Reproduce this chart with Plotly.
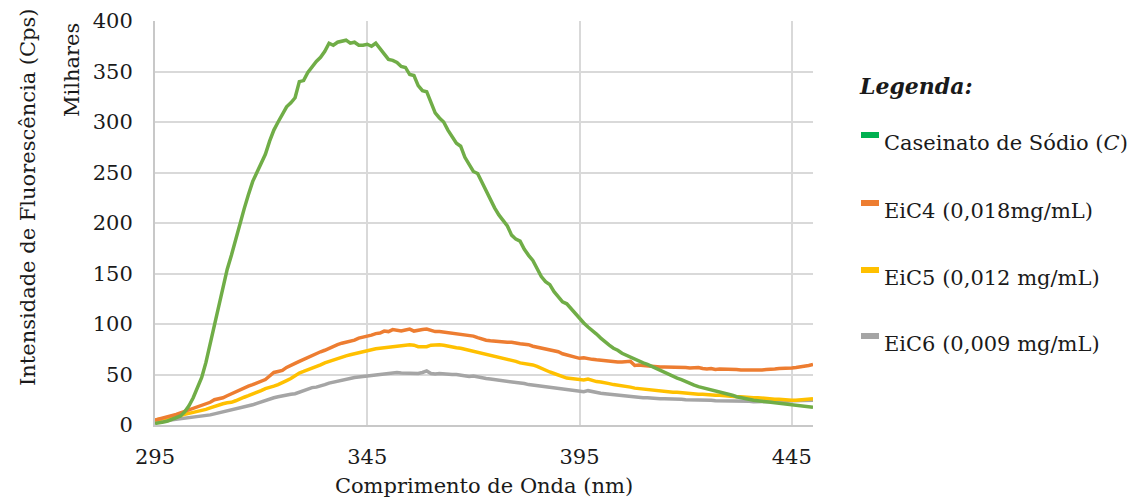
import plotly.graph_objects as go

# Emission wavelength (nm), one reading per nanometre
wavelength = list(range(295, 451))

# Fluorescence intensity, thousands of counts per second
caseinato = [
    1.5, 2, 3, 4, 5.5, 7, 9, 13, 19, 27,
    36, 47, 62, 80, 100, 118, 137, 154, 168, 184,
    200, 214, 228, 241, 250, 260, 268, 281, 292, 300,
    307, 315, 319, 324, 340, 341, 349, 355, 360, 364,
    370, 378, 376, 379, 380, 381, 378, 379, 376, 376,
    377, 375, 378, 373, 367, 362, 361, 359, 355, 354,
    347, 346, 336, 331, 330, 319, 309, 304, 300, 292,
    285, 279, 276, 265, 258, 251, 249, 240, 231, 223,
    215, 208, 202, 197, 188, 184, 182, 174, 168, 163,
    155, 147, 142, 139, 132, 127, 122, 120, 115, 110,
    105, 101, 97, 94, 90, 86, 82, 79, 76, 74,
    71, 69, 67, 65, 63, 61.5, 60, 58, 56, 54,
    52, 50, 48, 46.5, 45, 43, 41, 39.5, 38, 37,
    36, 35, 34, 32.5, 31.5, 30.5, 29.5, 28, 27, 26,
    25, 24.5, 24, 23.5, 23, 22.5, 22, 21.5, 21, 20.5,
    20, 19.5, 19, 18.5, 18, 17.5,
]
eic4 = [
    5, 6, 7, 8, 9, 10.5, 12, 13.5, 15, 16.5,
    17.5, 19, 20.5, 22.5, 25, 26, 27, 29, 31, 33,
    35, 37, 38.5, 40, 41.5, 43, 45, 48.5, 52, 53,
    54, 57, 59.5, 61, 63, 65, 67, 69, 71, 72.5,
    74, 76, 77.5, 79.5, 81, 82, 82.5, 84, 86, 87,
    87.5, 89, 90.5, 91, 93, 92.5, 94.5, 93.5, 93, 94,
    95, 93, 94, 94.5, 95, 93.5, 92.5, 92.5, 92, 91.5,
    91, 90, 89.5, 89, 88.5, 88, 86.5, 85, 84, 83.5,
    83, 82.5, 82.5, 82, 82, 81, 80.5, 80, 79.5, 78,
    77, 76, 75, 74.5, 73.5, 72.5, 70.5, 69.5, 68.5, 67,
    66, 66.5, 65.5, 65, 64.5, 64, 63.5, 63.5, 63, 62.5,
    62.5, 62.5, 63, 59, 59.5, 59, 58.5, 58, 58, 57.5,
    57.5, 57.5, 57, 57.5, 57, 57, 56.5, 56.5, 57, 56,
    55.5, 56, 55, 55.5, 55.5, 55, 55.5, 55, 54.5, 54.5,
    54.5, 54.5, 54, 54.5, 55, 55, 55.5, 56, 56, 56.5,
    56.5, 57, 57.5, 58, 59, 60,
]
eic5 = [
    5, 5.5, 6.5, 7.5, 8, 9, 9.5, 10.5, 11.5, 12.5,
    13, 14, 15.5, 17, 18.5, 20, 21, 22, 22.5, 24,
    26, 27.5, 29, 30.5, 32, 34, 36, 37, 38.5, 40,
    42.5, 44, 46, 49, 51.5, 53, 54.5, 56, 58, 59.5,
    61.5, 63, 64.5, 66, 67, 68.5, 69.5, 70.5, 72, 73,
    74, 74.5, 75.5, 76, 76.5, 77.5, 78, 78.5, 78.5, 79.5,
    79.5, 79, 77.5, 77.5, 77.5, 79, 79.5, 79.5, 79, 78,
    77, 76.5, 76, 75, 74, 73, 72, 71, 70, 69,
    68, 67.5, 66.5, 65.5, 64.5, 63, 61.5, 61, 60, 59.5,
    58, 56, 54, 52.5, 51, 49.5, 48, 46.5, 46, 45.5,
    45, 44.5, 45.5, 44, 43, 42.5, 42, 41, 40, 39.5,
    39, 38.5, 37.5, 36.5, 36, 35.5, 35, 34.5, 34, 33.5,
    33, 33, 32.5, 32.5, 32, 31.5, 31.5, 31, 30.5, 30.5,
    30, 30, 29.5, 29.5, 29, 28.5, 28.5, 28, 28, 27.5,
    27.5, 27, 27, 26.5, 26, 26, 25.5, 25.5, 25, 25,
    24.5, 24.5, 25, 25.5, 26, 26,
]
eic6 = [
    3, 3.5, 4, 4.5, 5, 5.5, 6, 6.5, 7, 7.5,
    8, 8.5, 9, 10, 11, 12, 13, 14, 14.5, 15.5,
    16.5, 18, 19, 20, 21.5, 23, 24.5, 25.5, 27, 28,
    29, 29.5, 30.5, 31, 32.5, 34.5, 36, 37, 37.5, 38.5,
    40, 41.5, 42.5, 43.5, 44.5, 45.5, 46, 47, 47.5, 48,
    48.5, 49, 49.5, 50.5, 51, 51.5, 51.5, 52, 51.5, 51.5,
    51, 51.5, 51, 52, 53.5, 51, 50.5, 51, 50.5, 50,
    50, 50, 49.5, 49, 48, 48.5, 47.5, 46.5, 46, 45.5,
    45, 44.5, 44, 43.5, 43, 42, 41.5, 41, 40, 39.5,
    39, 38.5, 38, 37.5, 37, 36, 35.5, 35, 34.5, 34,
    33.5, 33, 34, 33, 32, 31.5, 31, 30.5, 30, 29.5,
    29, 28.5, 28, 27.5, 27.5, 27, 27, 26.5, 26.5, 26,
    26, 26, 25.5, 25.5, 25.5, 25, 25, 25, 25, 24.5,
    24.5, 24.5, 24, 24, 24, 24, 24, 23.5, 23.5, 23.5,
    23.5, 23, 23, 23, 23, 23, 23, 23.5, 23.5, 23.5,
    24, 24, 24, 24, 24.5, 24.5,
]

series_names = [
    "Caseinato de Sódio (<i>C</i>)",
    "EiC4 (0,018mg/mL)",
    "EiC5 (0,012 mg/mL)",
    "EiC6 (0,009 mg/mL)",
]
line_colors = ["#70AD47", "#ED7D31", "#FFC000", "#A5A5A5"]
key_colors = ["#00B050", "#ED7D31", "#FFC000", "#A5A5A5"]

x_ticks = [295, 345, 395, 445]
y_ticks = [0, 50, 100, 150, 200, 250, 300, 350, 400]

FONT = "DejaVu Serif"
TXT = "#1a1a1a"
W, H = 1127, 501
L, R, T, B = 155, 314, 21, 76
PW, PH = W - L - R, H - T - B


def px(xp):
    return (xp - L) / PW


def py(yp):
    return (H - B - yp) / PH


fig = go.Figure()
# Draw gray first so the stronger curves sit on top
for vals, color in list(zip([caseinato, eic4, eic5, eic6], line_colors))[::-1]:
    fig.add_trace(go.Scatter(
        x=wavelength, y=vals, mode="lines",
        line=dict(color=color, width=3.5),
        showlegend=False, hoverinfo="skip",
    ))

fig.update_layout(
    width=W, height=H,
    margin=dict(l=L, r=R, t=T, b=B),
    paper_bgcolor="white", plot_bgcolor="white",
    font=dict(family=FONT, size=21, color=TXT),
    xaxis=dict(
        range=[295, 450], tickvals=x_ticks, ticktext=[str(v) for v in x_ticks],
        showgrid=True, gridcolor="#d9d9d9", gridwidth=2,
        showline=True, linecolor="#c8c8c8", linewidth=2,
        ticks="", zeroline=False, ticklabelstandoff=12, automargin=False,
        tickfont=dict(family=FONT, size=21, color=TXT),
        title=dict(text="Comprimento de Onda (nm)", standoff=10,
                   font=dict(family=FONT, size=21, color=TXT)),
    ),
    yaxis=dict(
        range=[0, 400], tickvals=y_ticks,
        showgrid=True, gridcolor="#d9d9d9", gridwidth=2,
        showline=True, linecolor="#c8c8c8", linewidth=2,
        ticks="", zeroline=False, ticklabelstandoff=16, automargin=False,
        tickfont=dict(family=FONT, size=21, color=TXT),
    ),
)

# Y-axis title and display-unit label
fig.add_annotation(
    text="Intensidade de Fluorescência (Cps)", textangle=-90,
    xref="paper", yref="paper", x=px(28), y=py(197),
    xanchor="center", yanchor="middle",
    showarrow=False, font=dict(family=FONT, size=21, color=TXT),
)
fig.add_annotation(
    text="Milhares", textangle=-90,
    xref="paper", yref="paper", x=px(72), y=py(70),
    xanchor="center", yanchor="middle",
    showarrow=False, font=dict(family=FONT, size=21, color=TXT),
)

# Custom key on the right
fig.add_annotation(
    text="<b><i>Legenda:</i></b>", xref="paper", yref="paper",
    x=px(857), y=py(86), xanchor="left", yanchor="middle",
    showarrow=False, font=dict(family=FONT, size=22, color=TXT),
)
row_y = [143, 211, 278, 344]
for name, color, ry in zip(series_names, key_colors, row_y):
    fig.add_shape(
        type="rect", xref="paper", yref="paper",
        x0=px(861), x1=px(879), y0=py(ry - 5), y1=py(ry - 11),
        fillcolor=color, line=dict(width=0),
    )
    fig.add_annotation(
        text=name, xref="paper", yref="paper",
        x=px(882), y=py(ry), xanchor="left", yanchor="middle",
        showarrow=False, font=dict(family=FONT, size=21, color=TXT),
    )

fig.write_html("out.html")
